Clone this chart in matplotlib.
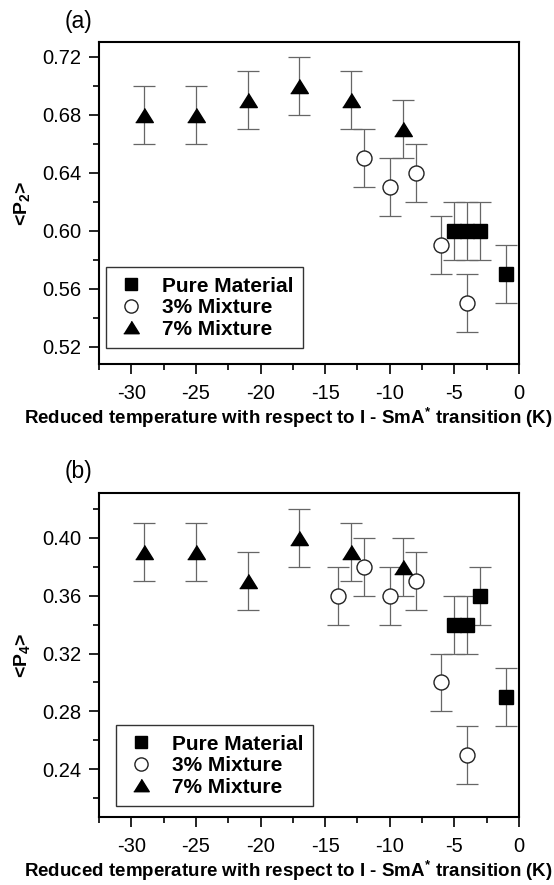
import matplotlib

matplotlib.use("Agg")
import matplotlib.pyplot as plt
from matplotlib.lines import Line2D
from matplotlib.ticker import MultipleLocator

plt.rcParams["font.family"] = ["Liberation Sans", "DejaVu Sans"]
plt.rcParams["mathtext.fontset"] = "custom"
plt.rcParams["mathtext.rm"] = "Liberation Sans:bold"
plt.rcParams["mathtext.it"] = "Liberation Sans:bold"
plt.rcParams["mathtext.bf"] = "Liberation Sans:bold"

# reduced temperature (K) and order parameters, panel (a): <P2>
pure_a_x = [-5, -4, -3, -1]
pure_a_y = [0.60, 0.60, 0.60, 0.57]
mix3_a_x = [-12, -10, -8, -6, -4]
mix3_a_y = [0.65, 0.63, 0.64, 0.59, 0.55]
mix7_a_x = [-29, -25, -21, -17, -13, -9]
mix7_a_y = [0.68, 0.68, 0.69, 0.70, 0.69, 0.67]

# panel (b): <P4>
pure_b_x = [-5, -4, -3, -1]
pure_b_y = [0.34, 0.34, 0.36, 0.29]
mix3_b_x = [-14, -12, -10, -8, -6, -4]
mix3_b_y = [0.36, 0.38, 0.36, 0.37, 0.30, 0.25]
mix7_b_x = [-29, -25, -21, -17, -13, -9]
mix7_b_y = [0.39, 0.39, 0.37, 0.40, 0.39, 0.38]

P_ERR = 0.02
series_names = ["Pure Material", "3% Mixture", "7% Mixture"]

W, H = 554, 885
DPI = 100
TRI = [(-1, -0.8), (1, -0.8), (0, 0.8)]
styles = [
    dict(marker="s", ms=9.4, mfc="black", mec="black"),
    dict(marker="o", ms=10.8, mfc="white", mec="#222222", mew=1.0),
    dict(marker=TRI, ms=12.7, mfc="black", mec="black"),
]
ERR_COLOR = "#666666"


def axes_rect(left, top, right, bottom):
    return [left / W, 1 - bottom / H, (right - left) / W, (bottom - top) / H]


def draw_panel(ax, data, ylim, ylabel, tag, legend_anchor):
    for (x, y), st in zip(data, styles):
        ax.errorbar(x, y, yerr=P_ERR, fmt="none", ecolor=ERR_COLOR,
                    elinewidth=0.9, capsize=8, capthick=0.9, zorder=2)
        ax.plot(x, y, linestyle="none", zorder=3, **st)

    ax.set_xlim(-32.5, 0)
    ax.set_ylim(*ylim)
    ax.xaxis.set_major_locator(MultipleLocator(5))
    ax.xaxis.set_minor_locator(MultipleLocator(2.5))
    ax.yaxis.set_major_locator(MultipleLocator(0.04))
    ax.yaxis.set_minor_locator(MultipleLocator(0.02))
    ax.yaxis.set_major_formatter(plt.FormatStrFormatter("%.2f"))
    ax.xaxis.set_major_formatter(plt.FuncFormatter(lambda v, p: f"{v:.0f}"))
    ax.tick_params(which="both", direction="out", top=False, right=False,
                   width=1.2, labelsize=14.5)
    ax.tick_params(which="major", length=7.5, pad=5)
    ax.tick_params(which="minor", length=4.5)
    ax.tick_params(axis="x", which="major", pad=7)
    for sp in ax.spines.values():
        sp.set_linewidth(1.5)

    # legend shows bare markers, no error bars
    handles = [Line2D([], [], linestyle="none", **{**st, "ms": st["ms"] * 0.88})
               for st in styles]
    leg = ax.legend(handles, series_names, loc="lower left",
                    bbox_to_anchor=legend_anchor, frameon=True, fancybox=False,
                    edgecolor="#333333", framealpha=1,
                    prop={"weight": "bold", "size": 15},
                    handlelength=1.5, handletextpad=0.75, borderpad=0.45,
                    labelspacing=0.12, borderaxespad=0)
    leg.get_frame().set_linewidth(1.0)

    bb = ax.get_position()
    fig.text(22 / W, bb.y0 + bb.height / 2, ylabel, rotation=90,
             ha="center", va="center", fontsize=14, fontweight="bold")
    fig.text(78 / W, bb.y1 + 21 / H, tag, ha="center", va="center", fontsize=16.5)
    fig.text(288 / W, bb.y0 - 54 / H,
             "Reduced temperature with respect to I - SmA$^{*}$ transition (K)",
             ha="center", va="center", fontsize=13.5, fontweight="bold")


fig = plt.figure(figsize=(W / DPI, H / DPI), dpi=DPI)
ax_a = fig.add_axes(axes_rect(99, 42, 519, 364))
ax_b = fig.add_axes(axes_rect(99, 493, 519, 817))

draw_panel(ax_a,
           [(pure_a_x, pure_a_y), (mix3_a_x, mix3_a_y), (mix7_a_x, mix7_a_y)],
           (0.508, 0.730), "<P$_2$>", "(a)", (7 / 420, 16 / 322))
draw_panel(ax_b,
           [(pure_b_x, pure_b_y), (mix3_b_x, mix3_b_y), (mix7_b_x, mix7_b_y)],
           (0.207, 0.431), "<P$_4$>", "(b)", (17 / 420, 11 / 324))

fig.savefig("out.png", dpi=DPI)
